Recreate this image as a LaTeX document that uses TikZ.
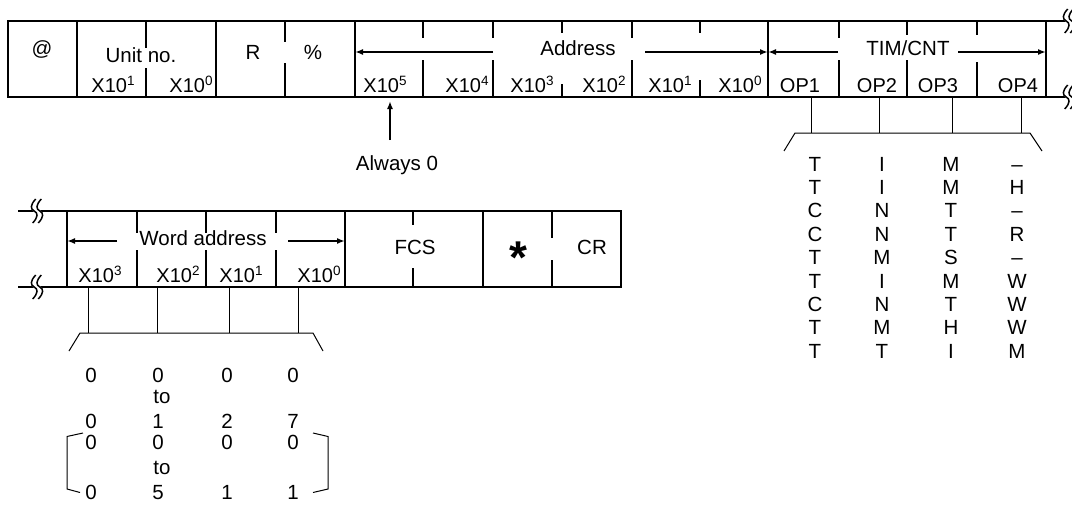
\documentclass[tikz,border=0pt]{standalone}
\usepackage{fontspec}
\setmainfont{Liberation Sans}
\usetikzlibrary{arrows.meta}
\newcommand\pw[1]{X10\raisebox{6.5pt}{\fontsize{13.5}{14}\selectfont #1}}
\begin{document}
\begin{tikzpicture}[x=1pt,y=-1pt,
  frm/.style={line width=2.2pt},
  tk/.style={line width=2.2pt},
  thin/.style={line width=1pt},
  arr/.style={line width=1.6pt,-{Latex[length=8pt,width=6pt]}},
  big/.style={font=\fontsize{20.5}{24}\selectfont, inner sep=0pt, anchor=base},
  dig/.style={font=\fontsize{20}{22}\selectfont, inner sep=0pt, anchor=base},
  lst/.style={font=\fontsize{20.5}{24}\selectfont, inner sep=0pt, anchor=base},
  brk/.pic={
    \draw[white,line width=5pt] (1.5,-12) .. controls (-4,-6) and (-4,-2) .. (0,0) .. controls (4,2) and (4,6) .. (-1.5,12);
    \begin{scope}[xshift=-2.8pt]
      \draw[line width=1.5pt] (1.5,-12) .. controls (-4,-6) and (-4,-2) .. (0,0) .. controls (4,2) and (4,6) .. (-1.5,12);
    \end{scope}
    \begin{scope}[xshift=2.8pt]
      \draw[line width=1.5pt] (1.5,-12) .. controls (-4,-6) and (-4,-2) .. (0,0) .. controls (4,2) and (4,6) .. (-1.5,12);
    \end{scope}
  }
]
\useasboundingbox (0,0) rectangle (1072,506);

% ---------------- top frame ----------------
\draw[frm] (8,21) rectangle (1046,97);
\draw[frm] (1046,21) -- (1066,21) (1046,97) -- (1066,97);
\foreach \x in {77,216,355,768} \draw[tk] (\x,21) -- (\x,97);
\foreach \x/\a/\b in {146/48/68, 285/42/63, 423/38/60, 493/38/60, 562/33/84, 632/38/60, 700/33/80, 839/38/60, 907/35/60, 977/35/62}
  \draw[tk] (\x,21) -- (\x,\a) (\x,\b) -- (\x,97);
\pic at (1069,21) {brk};
\pic at (1069,97) {brk};

\node[big] (at) at (42,56) {@};
\node[big] (unit) at (141,62) {Unit no.};
\node[big] (r) at (253,59) {R};
\node[big] (pct) at (313,59) {\%};
\node[big] (addr) at (578,55) {Address};
\node[big] (tim) at (908,55) {TIM/CNT};

\coordinate (aL) at (355,52); \coordinate (aLs) at (493,52);
\coordinate (aRs) at (645,52); \coordinate (aR) at (768,52);
\draw[arr] (aLs) -- (aL);
\draw[arr] (aRs) -- (aR);
\coordinate (tL) at (768,52); \coordinate (tLs) at (838,52);
\coordinate (tRs) at (958,52); \coordinate (tR) at (1046,52);
\draw[arr] (tLs) -- (tL);
\draw[arr] (tRs) -- (tR);

\node[dig] (u1) at (113,92) {\pw{1}};
\node[dig] (u0) at (191,92) {\pw{0}};
\node[dig] (a5) at (385,92) {\pw{5}};
\node[dig] (a4) at (467,92) {\pw{4}};
\node[dig] (a3) at (532,92) {\pw{3}};
\node[dig] (a2) at (604,92) {\pw{2}};
\node[dig] (a1) at (670,92) {\pw{1}};
\node[dig] (a0) at (740,92) {\pw{0}};
\node[dig] (op1) at (800,92) {OP1};
\node[dig] (op2) at (877,92) {OP2};
\node[dig] (op3) at (938,92) {OP3};
\node[dig] (op4) at (1018,92) {OP4};

% Always 0
\node[big] (alw) at (397,170) {Always 0};
\coordinate (alwT) at (390,140);
\coordinate (x5b) at (390,101);
\draw[arr] (alwT) -- (x5b);

% TIM/CNT options
\foreach \x [count=\i] in {811,879,952,1021} {
  \coordinate (ot\i) at (\x,97); \coordinate (ob\i) at (\x,133);
  \draw[thin] (ot\i) -- (ob\i);
}
\coordinate (oL) at (795,133); \coordinate (oR) at (1030,133);
\coordinate (oLL) at (784,151); \coordinate (oRR) at (1042,151);
\draw[thin] (oLL) -- (oL) -- (oR) -- (oRR);

\foreach \c [count=\i from 0] in {T,T,C,C,T,T,C,T,T}
  \node[lst] (la\i) at (815,{171+23.4*\i}) {\c};
\foreach \c [count=\i from 0] in {I,I,N,N,M,I,N,M,T}
  \node[lst] (lb\i) at (882,{171+23.4*\i}) {\c};
\foreach \c [count=\i from 0] in {M,M,T,T,S,M,T,H,I}
  \node[lst] (lc\i) at (951,{171+23.4*\i}) {\c};
\foreach \c [count=\i from 0] in {–,H,–,R,–,W,W,W,M}
  \node[lst] (ld\i) at (1017,{171+23.4*\i}) {\c};

% ---------------- bottom frame ----------------
\draw[frm] (67,211) rectangle (621,287);
\draw[frm] (18,211) -- (67,211) (18,287) -- (67,287);
\pic at (37,211) {brk};
\pic at (37,287) {brk};
\foreach \x in {345,483} \draw[tk] (\x,211) -- (\x,287);
\foreach \x/\a/\b in {137/233/250, 206/233/250, 276/233/250, 413/225/268, 552/238/260}
  \draw[tk] (\x,211) -- (\x,\a) (\x,\b) -- (\x,287);

\node[big] (word) at (203,245) {Word address};
\coordinate (wL) at (67,241); \coordinate (wLs) at (117,241);
\coordinate (wRs) at (288,241); \coordinate (wR) at (345,241);
\draw[arr] (wLs) -- (wL);
\draw[arr] (wRs) -- (wR);
\node[big] (fcs) at (415,254) {FCS};
\node[inner sep=0pt, anchor=base, font=\fontsize{46}{46}\selectfont\bfseries] (ast) at (518,273) {*};
\node[big] (cr) at (592,254) {CR};

\node[dig] (w3) at (100,282) {\pw{3}};
\node[dig] (w2) at (178,282) {\pw{2}};
\node[dig] (w1) at (241,282) {\pw{1}};
\node[dig] (w0) at (319,282) {\pw{0}};

\foreach \x [count=\i] in {88,157,229,298} {
  \coordinate (wt\i) at (\x,287); \coordinate (wb\i) at (\x,333);
  \draw[thin] (wt\i) -- (wb\i);
}
\coordinate (bL) at (80,333); \coordinate (bR) at (313,333);
\coordinate (bLL) at (69,351); \coordinate (bRR) at (323,351);
\draw[thin] (bLL) -- (bL) -- (bR) -- (bRR);

\foreach \y/\p/\q/\r/\s [count=\i] in {382/0/0/0/0, 428/0/1/2/7, 449/0/0/0/0, 499/0/5/1/1} {
  \node[lst] (n\i a) at (91,\y) {\p};
  \node[lst] (n\i b) at (158,\y) {\q};
  \node[lst] (n\i c) at (227,\y) {\r};
  \node[lst] (n\i d) at (293,\y) {\s};
}
\node[lst] (to1) at (162,403) {to};
\node[lst] (to2) at (162,474) {to};

\coordinate (kL1) at (83,433); \coordinate (kL2) at (67,436.5);
\coordinate (kL3) at (67,489); \coordinate (kL4) at (80,492.5);
\draw[thin] (kL1) -- (kL2) -- (kL3) -- (kL4);
\coordinate (kR1) at (313,433); \coordinate (kR2) at (328,436.5);
\coordinate (kR3) at (328,489); \coordinate (kR4) at (313,492.5);
\draw[thin] (kR1) -- (kR2) -- (kR3) -- (kR4);
\end{tikzpicture}
\end{document}
